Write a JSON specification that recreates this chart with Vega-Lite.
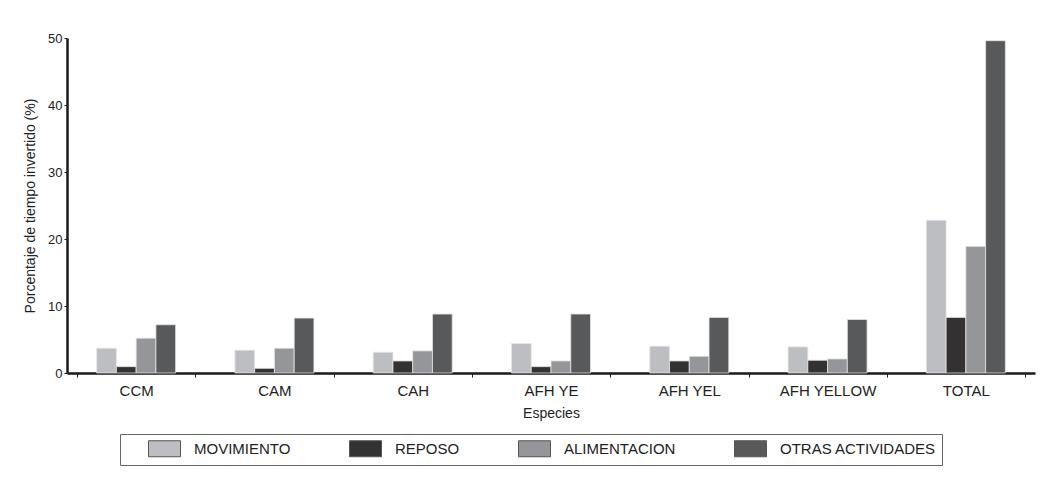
{
  "$schema": "https://vega.github.io/schema/vega-lite/v6.json",
  "autosize": {"type": "none"},
  "width": 968,
  "height": 335,
  "padding": {"left": 67, "top": 38, "right": 28, "bottom": 105},
  "background": "white",
  "config": {
    "view": {"stroke": null},
    "font": "Liberation Sans",
    "axis": {"labelColor": "#222", "titleColor": "#222", "titleFontWeight": "normal", "domainColor": "#1a1a1a", "tickColor": "#1a1a1a"}
  },
  "data": {
    "values": [
      {"especie": "CCM", "actividad": "MOVIMIENTO", "valor": 3.7},
      {"especie": "CCM", "actividad": "REPOSO", "valor": 0.95},
      {"especie": "CCM", "actividad": "ALIMENTACION", "valor": 5.2},
      {"especie": "CCM", "actividad": "OTRAS ACTIVIDADES", "valor": 7.2},
      {"especie": "CAM", "actividad": "MOVIMIENTO", "valor": 3.4},
      {"especie": "CAM", "actividad": "REPOSO", "valor": 0.7},
      {"especie": "CAM", "actividad": "ALIMENTACION", "valor": 3.7},
      {"especie": "CAM", "actividad": "OTRAS ACTIVIDADES", "valor": 8.2},
      {"especie": "CAH", "actividad": "MOVIMIENTO", "valor": 3.1},
      {"especie": "CAH", "actividad": "REPOSO", "valor": 1.8},
      {"especie": "CAH", "actividad": "ALIMENTACION", "valor": 3.3},
      {"especie": "CAH", "actividad": "OTRAS ACTIVIDADES", "valor": 8.8},
      {"especie": "AFH YE", "actividad": "MOVIMIENTO", "valor": 4.4},
      {"especie": "AFH YE", "actividad": "REPOSO", "valor": 0.95},
      {"especie": "AFH YE", "actividad": "ALIMENTACION", "valor": 1.8},
      {"especie": "AFH YE", "actividad": "OTRAS ACTIVIDADES", "valor": 8.8},
      {"especie": "AFH YEL", "actividad": "MOVIMIENTO", "valor": 4.0},
      {"especie": "AFH YEL", "actividad": "REPOSO", "valor": 1.8},
      {"especie": "AFH YEL", "actividad": "ALIMENTACION", "valor": 2.5},
      {"especie": "AFH YEL", "actividad": "OTRAS ACTIVIDADES", "valor": 8.3},
      {"especie": "AFH YELLOW", "actividad": "MOVIMIENTO", "valor": 3.9},
      {"especie": "AFH YELLOW", "actividad": "REPOSO", "valor": 1.9},
      {"especie": "AFH YELLOW", "actividad": "ALIMENTACION", "valor": 2.1},
      {"especie": "AFH YELLOW", "actividad": "OTRAS ACTIVIDADES", "valor": 8.0},
      {"especie": "TOTAL", "actividad": "MOVIMIENTO", "valor": 22.8},
      {"especie": "TOTAL", "actividad": "REPOSO", "valor": 8.3},
      {"especie": "TOTAL", "actividad": "ALIMENTACION", "valor": 18.9},
      {"especie": "TOTAL", "actividad": "OTRAS ACTIVIDADES", "valor": 49.6}
    ]
  },
  "mark": {"type": "bar", "stroke": "#e6e6e6", "strokeWidth": 0.8},
  "encoding": {
    "x": {
      "field": "especie",
      "type": "nominal",
      "sort": ["CCM", "CAM", "CAH", "AFH YE", "AFH YEL", "AFH YELLOW", "TOTAL"],
      "scale": {"paddingInner": 0.143, "paddingOuter": 0.0715},
      "axis": {
        "title": "Especies",
        "labelAngle": 0,
        "labelFontSize": 15,
        "labelPadding": 6,
        "titleFontSize": 14,
        "titlePadding": 8,
        "tickBand": "extent",
        "tickSize": 4,
        "tickWidth": 1,
        "domainWidth": 2.5
      }
    },
    "xOffset": {
      "field": "actividad",
      "type": "nominal",
      "sort": ["MOVIMIENTO", "REPOSO", "ALIMENTACION", "OTRAS ACTIVIDADES"],
      "scale": {"paddingInner": 0, "paddingOuter": 1}
    },
    "y": {
      "field": "valor",
      "type": "quantitative",
      "scale": {"domain": [0, 50], "nice": false},
      "axis": {
        "title": "Porcentaje de tiempo invertido (%)",
        "values": [0, 10, 20, 30, 40, 50],
        "grid": false,
        "labelFontSize": 13,
        "titleFontSize": 14,
        "titlePadding": 10,
        "tickSize": 3,
        "labelPadding": 2,
        "domainWidth": 2.5
      }
    },
    "color": {
      "field": "actividad",
      "type": "nominal",
      "sort": ["MOVIMIENTO", "REPOSO", "ALIMENTACION", "OTRAS ACTIVIDADES"],
      "scale": {
        "domain": ["MOVIMIENTO", "REPOSO", "ALIMENTACION", "OTRAS ACTIVIDADES"],
        "range": ["#bdbec2", "#333132", "#959699", "#58595b"]
      },
      "legend": {
        "title": null,
        "orient": "none",
        "legendX": 53,
        "legendY": 396,
        "direction": "horizontal",
        "columns": 4,
        "strokeColor": "#666",
        "padding": 6,
        "symbolType": "M-2,-1H2V1H-2Z",
        "symbolSize": 256,
        "symbolStrokeColor": "#555",
        "symbolStrokeWidth": 1,
        "symbolOpacity": 1,
        "symbolOffset": 30,
        "labelOffset": 21,
        "columnPadding": 36,
        "labelFontSize": 15,
        "labelFont": "Liberation Sans",
        "labelColor": "#222"
      }
    }
  }
}
